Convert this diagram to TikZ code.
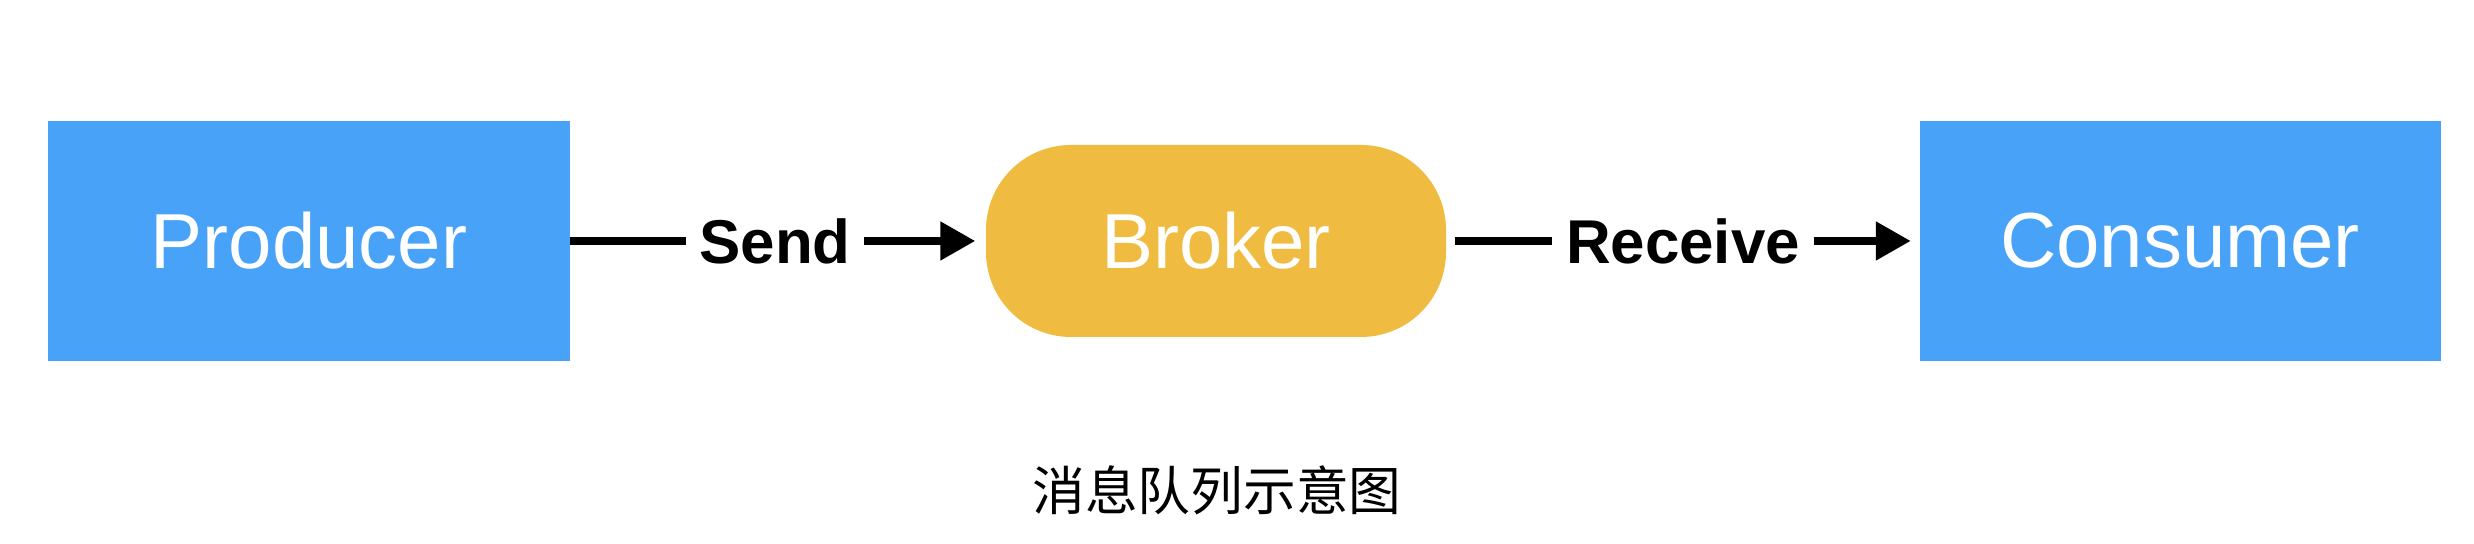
\documentclass[tikz,border=0pt]{standalone}
\usepackage{fontspec}
\setmainfont{Liberation Sans}
\newfontfamily\cjk{Noto Sans CJK SC}
\usetikzlibrary{arrows.meta}
\definecolor{boxblue}{RGB}{72,162,248}
\definecolor{brokeryellow}{RGB}{239,188,65}
\tikzset{
	endbox/.style={fill=boxblue, inner sep=0, minimum width=5.21cm, minimum height=2.40cm, text=white, font=\fontsize{22.2}{26}\selectfont},
	brokerbox/.style={fill=brokeryellow, rounded corners=0.85cm, inner sep=0, minimum width=4.60cm, minimum height=1.92cm, text=white, font=\fontsize{22.2}{26}\selectfont},
	msglabel/.style={inner xsep=0.13cm, inner ysep=0, font=\bfseries\fontsize{17.6}{20}\selectfont},
	flowline/.style={line width=0.08cm},
	flowarrow/.style={flowline, -{Triangle[length=0.35cm, width=0.37cm]}}
}
\begin{document}
\begin{tikzpicture}
			%%%%% START %%%%%
			\useasboundingbox (0, 0) rectangle (24.74, 5.44);
			
			\node[endbox] (producer) at (3.09, 3.03) {Producer};
			\node[brokerbox] (broker) at (12.16, 3.03) {Broker};
			\node[endbox] (consumer) at (21.80, 3.03) {Consumer};
			
			\node[msglabel] (send) at (7.75, 3.03) {Send};
			\node[msglabel] (receive) at (16.83, 3.03) {Receive};
			
			\draw[flowline] (producer) -- (send);
			\draw[flowarrow, shorten >=0.1cm] (send) -- (broker);
			\draw[flowline, shorten <=0.08cm] (broker) -- (receive);
			\draw[flowarrow, shorten >=0.08cm] (receive) -- (consumer);
			
			\node[font=\cjk\fontsize{15}{18}\selectfont] (caption) at (12.17, 0.54) {消息队列示意图};
			%%%%% END %%%%%
		\end{tikzpicture}
\end{document}
